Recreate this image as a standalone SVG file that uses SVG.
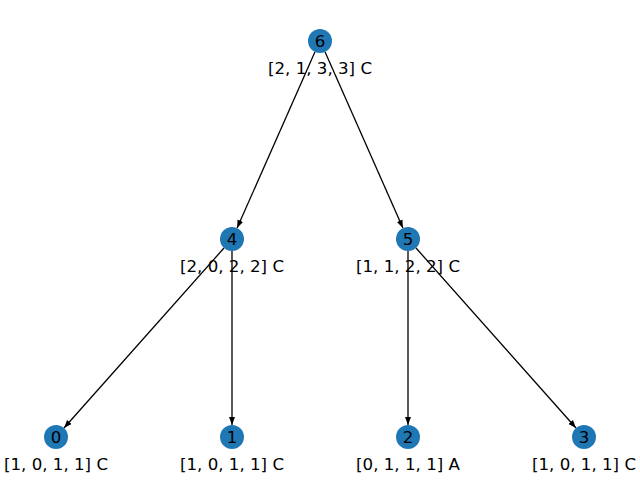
<svg xmlns="http://www.w3.org/2000/svg" width="640" height="480" viewBox="0 0 640 480">
  <style>
    .node circle { fill: #1f77b4; }
    .node text { font-family: "DejaVu Sans", sans-serif; font-size: 16.67px; fill: #000; text-anchor: middle; }
    .edges line { stroke: #000; stroke-width: 1.3; marker-end: url(#arrow); }
  </style>
  <defs>
    <marker id="arrow" markerUnits="userSpaceOnUse" markerWidth="10" markerHeight="8" viewBox="0 -4 10 8" refX="8" refY="0" orient="auto">
      <path d="M0,-3 L8,0 L0,3 z" fill="#000"/>
    </marker>
  </defs>
  <rect width="640" height="480" fill="#fff"/>
  <g class="edges">
    <line x1="314.9" y1="52.0" x2="237.1" y2="228.0"/>
    <line x1="325.1" y1="52.0" x2="402.9" y2="228.0"/>
    <line x1="224.0" y1="248.0" x2="64.0" y2="428.0"/>
    <line x1="232" y1="251" x2="232" y2="425"/>
    <line x1="408" y1="251" x2="408" y2="425"/>
    <line x1="416.0" y1="248.0" x2="576.0" y2="428.0"/>
  </g>
  <g id="node6" class="node"><circle cx="320" cy="41" r="12"/><text x="320" y="47">6</text><text x="320" y="74">[2, 1, 3, 3] C</text></g>
  <g id="node4" class="node"><circle cx="232" cy="239" r="12"/><text x="232" y="245">4</text><text x="232" y="272">[2, 0, 2, 2] C</text></g>
  <g id="node5" class="node"><circle cx="408" cy="239" r="12"/><text x="408" y="245">5</text><text x="408" y="272">[1, 1, 2, 2] C</text></g>
  <g id="node0" class="node"><circle cx="56" cy="437" r="12"/><text x="56" y="443">0</text><text x="56" y="470">[1, 0, 1, 1] C</text></g>
  <g id="node1" class="node"><circle cx="232" cy="437" r="12"/><text x="232" y="443">1</text><text x="232" y="470">[1, 0, 1, 1] C</text></g>
  <g id="node2" class="node"><circle cx="408" cy="437" r="12"/><text x="408" y="443">2</text><text x="408" y="470">[0, 1, 1, 1] A</text></g>
  <g id="node3" class="node"><circle cx="584" cy="437" r="12"/><text x="584" y="443">3</text><text x="584" y="470">[1, 0, 1, 1] C</text></g>
</svg>
